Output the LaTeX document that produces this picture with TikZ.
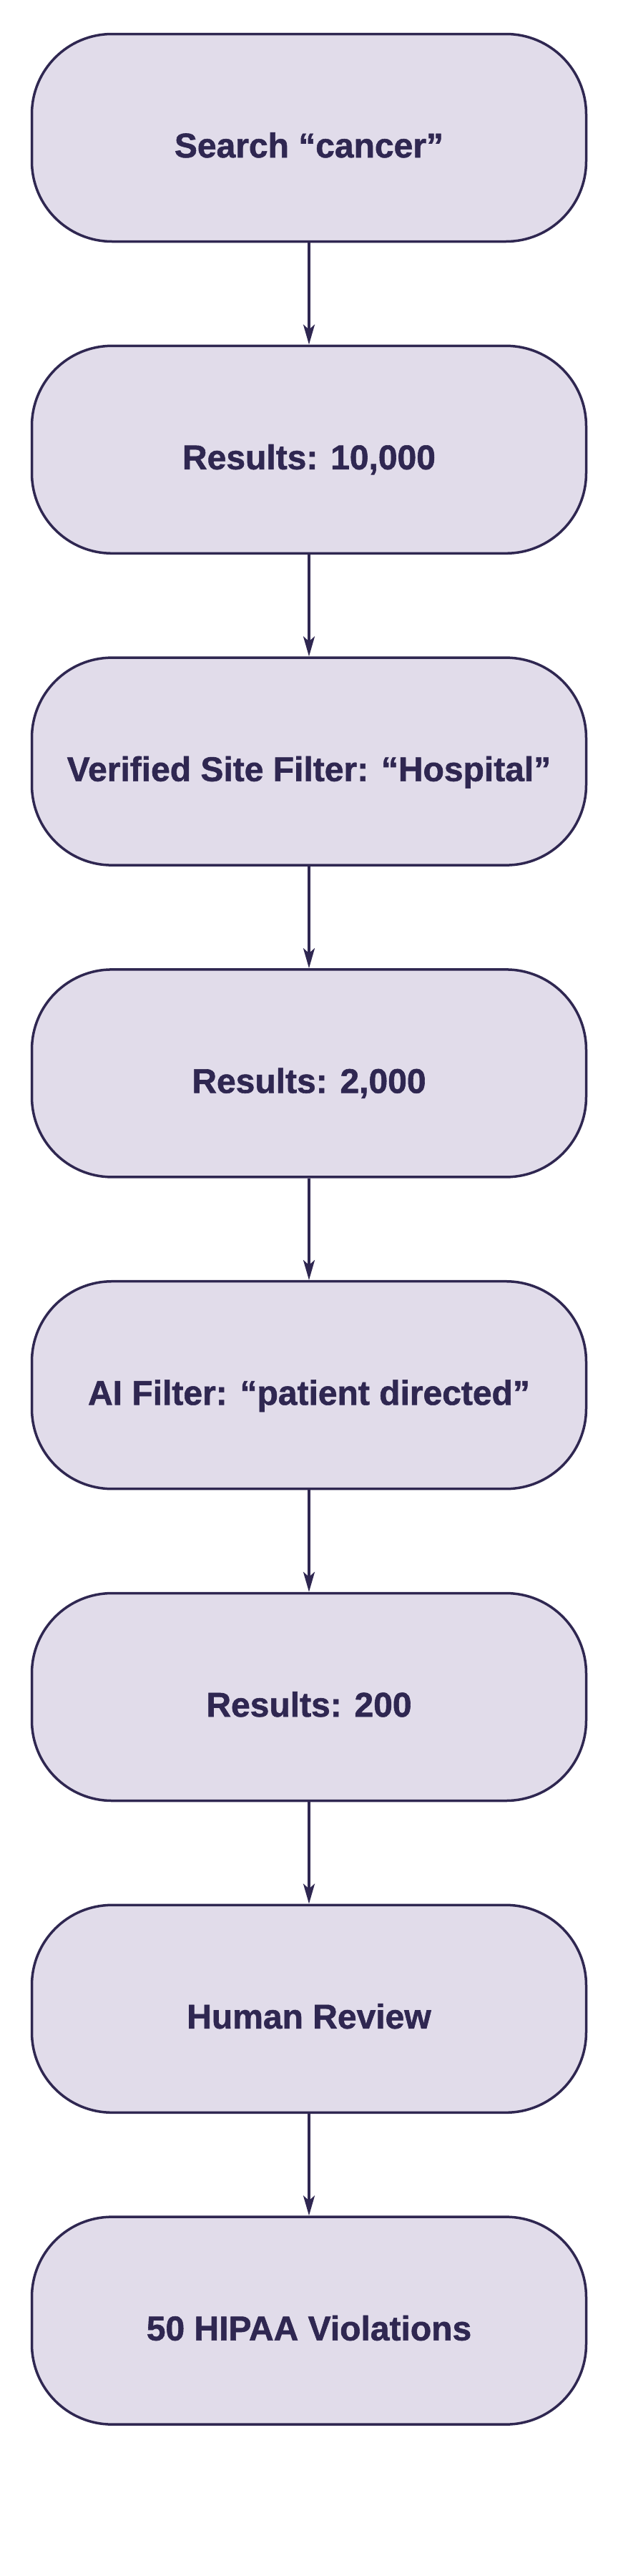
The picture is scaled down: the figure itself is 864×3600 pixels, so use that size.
\documentclass[tikz,border=0pt]{standalone}
\usepackage{fontspec}
\setmainfont{Liberation Sans}[BoldFeatures={FakeBold=1.2}]
\usetikzlibrary{arrows.meta,positioning}
\definecolor{inkplum}{HTML}{2F2751}
\definecolor{lavfill}{HTML}{E1DCEA}
\tikzset{
  stagebox/.style={
    rectangle, rounded corners=112pt, draw=inkplum, line width=3.5pt,
    fill=lavfill, minimum width=775pt, minimum height=290pt,
    text=inkplum, inner sep=0pt, text height=55pt, text depth=0pt,
    font=\fontsize{48}{56}\selectfont\bfseries
  },
  stagearrow/.style={-{Stealth[length=28pt,width=16pt,inset=7pt]}, line width=3.5pt, color=inkplum},
}
\begin{document}
\begin{tikzpicture}[node distance=142.3pt]
  \useasboundingbox (0,0) rectangle (864pt,-3600pt);
  \node[stagebox] (search) at (432pt,-192.5pt) {Search “cancer”};
  \node[stagebox, below=of search] (res1) {Results: 10,000};
  \node[stagebox, below=of res1] (site) {Verified Site Filter: “Hospital”};
  \node[stagebox, below=of site] (res2) {Results: 2,000};
  \node[stagebox, below=of res2] (ai) {AI Filter: “patient directed”};
  \node[stagebox, below=of ai] (res3) {Results: 200};
  \node[stagebox, below=of res3] (human) {Human Review};
  \node[stagebox, below=of human] (viol) {50 HIPAA Violations};
  \draw[stagearrow] (search) -- (res1);
  \draw[stagearrow] (res1) -- (site);
  \draw[stagearrow] (site) -- (res2);
  \draw[stagearrow] (res2) -- (ai);
  \draw[stagearrow] (ai) -- (res3);
  \draw[stagearrow] (res3) -- (human);
  \draw[stagearrow] (human) -- (viol);
\end{tikzpicture}
\end{document}
